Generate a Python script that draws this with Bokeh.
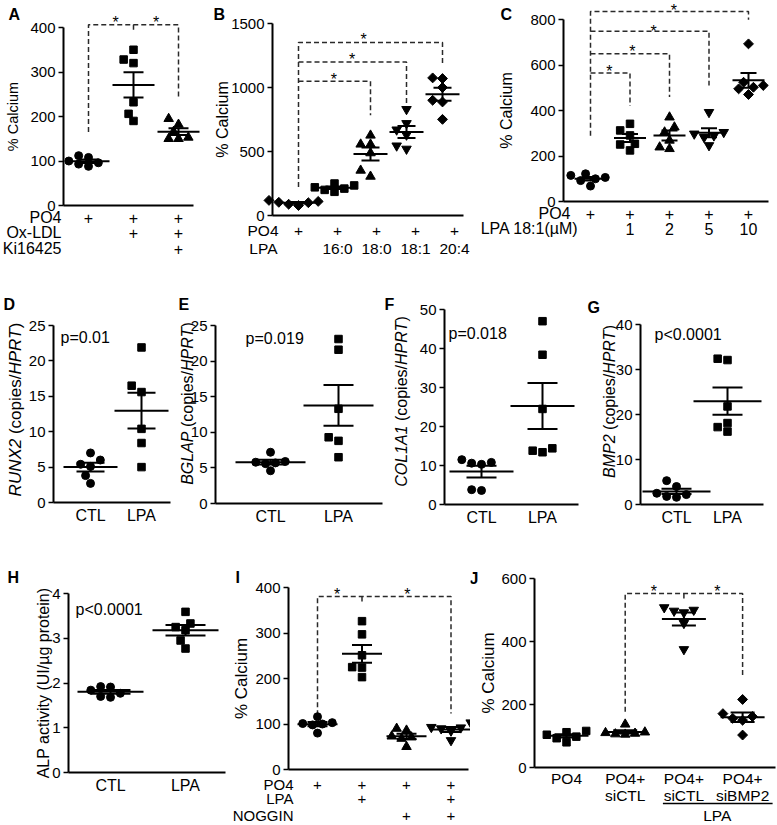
import numpy as np
from bokeh.plotting import figure
from bokeh.models import Range1d, FixedTicker, Label
from bokeh.layouts import row, column
from bokeh.embed import file_html
from bokeh.resources import INLINE

FONT = "Liberation Sans"

# ---------------- data ----------------
# A  (% Calcium)
A_po4 = [108, 100, 88, 93, 96, 112]
A_oxldl = [350, 328, 320, 232, 206, 190]
A_oxldl_ki = [195, 182, 166, 150, 150, 153]
A_rows = ["PO4", "Ox-LDL", "Ki16425"]
A_marks = [["+", "+", "+"], ["", "+", "+"], ["", "", "+"]]
A_yticks = [0, 100, 200, 300, 400]
A_brackets = [[(1, 165), (1, 406), (3, 406), (3, 243)], [(2, 406), (2, 389)]]
A_stars = [(1.6, 420), (2.5, 420)]

# B
B_po4 = [118, 103, 88, 78, 110, 100]
B_160 = [250, 235, 220, 210, 200, 185]
B_180 = [626, 556, 556, 488, 352, 305]
B_181 = [830, 720, 670, 630, 545, 520]
B_204 = [1075, 1070, 1000, 900, 887, 751]
B_rows = ["PO4", "LPA"]
B_marks = [["+", "+", "+", "+", "+"], ["", "16:0", "18:0", "18:1", "20:4"]]
B_yticks = [0, 500, 1000, 1500]
B_brackets = [[(1, 222), (1, 1351), (5, 1351), (5, 1187)],
              [(1, 1200), (4, 1200), (4, 874)],
              [(1, 1049), (3, 1049), (3, 783)]]
B_stars = [(1.98, 1095), (2.49, 1252), (2.81, 1408)]

# C
C_0 = [122, 115, 106, 100, 92, 68]
C_1 = [342, 313, 291, 254, 251, 225]
C_2 = [371, 327, 305, 269, 239, 232]
C_5 = [393, 305, 298, 290, 283, 247]
C_10 = [694, 525, 511, 503, 496, 471]
C_rows = ["PO4", "LPA 18:1(µM)"]
C_marks = [["+", "+", "+", "+", "+"], ["", "1", "2", "5", "10"]]
C_yticks = [0, 200, 400, 600, 800]
C_brackets = [[(1, 290), (1, 836), (5, 836), (5, 800)],
              [(1, 750), (4, 750), (4, 511)],
              [(1, 650), (3, 650), (3, 460)],
              [(1, 566), (2, 566), (2, 420)]]
C_stars = [(1.48, 590), (2.06, 678), (2.6, 766), (3.11, 858)]

# D-H  (CTL vs LPA)
D_ctl = [7.0, 6.0, 5.4, 5.1, 3.8, 2.7]
D_lpa = [21.9, 16.5, 15.6, 10.4, 8.4, 5.0]
E_ctl = [7.2, 5.9, 5.8, 5.7, 5.6, 4.6]
E_lpa = [23.1, 21.6, 13.3, 9.3, 8.8, 6.5]
F_ctl = [11.5, 10.8, 10.6, 10.3, 3.8, 3.6]
F_lpa = [47.0, 38.4, 24.5, 14.4, 13.8, 13.4]
G_ctl = [5.3, 4.0, 2.5, 2.2, 1.8, 1.6]
G_lpa = [32.4, 32.1, 21.8, 18.1, 17.2, 16.2]
H_ctl = [1.92, 1.91, 1.84, 1.77, 1.70, 1.68]
H_lpa = [3.59, 3.33, 3.25, 3.18, 2.95, 2.77]
CTL_LPA = ["CTL", "LPA"]
GENES = {"D": "RUNX2", "E": "BGLAP", "F": "COL1A1", "G": "BMP2"}
P_TEXT = {"D": "p=0.01", "E": "p=0.019", "F": "p=0.018", "G": "p<0.0001", "H": "p<0.0001"}

# I
I_po4 = [116, 103, 101, 100, 98, 80]
I_lpa = [326, 297, 251, 225, 224, 203]
I_nog = [90, 86, 73, 71, 68, 50]
I_lpa_nog = [103, 93, 92, 90, 85, 64]
I_rows = ["PO4", "LPA", "NOGGIN"]
I_marks = [["+", "+", "+", "+"], ["", "+", "", "+"], ["", "", "+", "+"]]
I_yticks = [0, 100, 200, 300, 400]
I_brackets = [[(1, 119), (1, 380), (4, 380), (4, 123)], [(2, 380), (2, 365)]]
I_stars = [(1.44, 393), (3.02, 393)]

# J
J_po4 = [116, 112, 104, 98, 93, 80]
J_sictl = [137, 112, 110, 108, 106, 105]
J_lpa_sictl = [508, 500, 497, 492, 458, 375]
J_lpa_sibmp2 = [216, 171, 162, 156, 150, 103]
J_top = ["PO4", "PO4+", "PO4+", "PO4+"]
J_bottom = ["", "siCTL", "siCTL", "siBMP2"]
J_lpa_groups = [3, 4]
J_yticks = [0, 200, 400, 600]
J_brackets = [[(2, 177), (2, 552), (4, 552), (4, 288)], [(3, 552), (3, 536)]]
J_stars = [(2.49, 571), (3.57, 571)]

# Arial / Liberation Sans advance widths (1/1000 em) for the gene axis titles
ADV = {"R": 722, "U": 722, "N": 722, "X": 667, "2": 556, "B": 667, "G": 778, "L": 556,
       "A": 667, "P": 667, "C": 722, "O": 778, "1": 556, "M": 833, "H": 722, "T": 611,
       "(": 333, ")": 333, "c": 500, "o": 556, "p": 556, "i": 222, "e": 556, "s": 500,
       "/": 278, " ": 278}


# ---------------- helpers ----------------
def make_panel(box, axis_x, axis_end, y0, ytop, ytop_val, c1, dc):
    """box = (left, top, width, height) of the figure on the page; the plot frame
    fills the whole figure, axes are placed with fixed_location."""
    fl, ft, fw, fh = box
    k = (y0 - ytop) / ytop_val

    def fx(rx):
        return 1 + (rx - c1) / dc

    def fy(ry):
        return (y0 - ry) / k

    p = figure(width=fw, height=fh, x_range=Range1d(fx(fl), fx(fl + fw)),
               y_range=Range1d(fy(ft + fh), fy(ft)),
               output_backend="svg", toolbar_location=None,
               min_border=0, min_border_left=0, min_border_right=0,
               min_border_top=0, min_border_bottom=0)
    p.outline_line_color = None
    p.grid.visible = False
    p.background_fill_color = "white"
    p.border_fill_color = "white"
    return dict(p=p, fx=fx, fy=fy, k=k, dc=dc, ax=fx(axis_x), aend=fx(axis_end))


def style_axes(P, yticks, ylabel, ylsize, ylstd, xlabels=None):
    p = P["p"]
    ya = p.yaxis[0]
    ya.fixed_location = P["ax"]
    ya.ticker = FixedTicker(ticks=yticks)
    ya.bounds = (yticks[0], yticks[-1])
    ya.axis_line_width = 2
    ya.axis_line_color = "black"
    ya.major_tick_line_width = 1.5
    ya.major_tick_line_color = "black"
    ya.major_tick_out = 5
    ya.major_tick_in = 0
    ya.minor_tick_line_color = None
    ya.major_label_text_font = FONT
    ya.major_label_text_font_size = "15px"
    ya.major_label_text_color = "black"
    ya.major_label_standoff = 3
    if ylabel:
        ya.axis_label = ylabel
        ya.axis_label_text_font = FONT
        ya.axis_label_text_font_size = ylsize
        ya.axis_label_text_font_style = "normal"
        ya.axis_label_text_color = "black"
        ya.axis_label_standoff = ylstd
    xa = p.xaxis[0]
    xa.fixed_location = 0
    xa.bounds = (P["ax"], P["aend"])
    xa.axis_line_width = 2
    xa.axis_line_color = "black"
    xa.major_tick_line_color = None
    xa.major_tick_out = 0
    xa.major_tick_in = 0
    xa.minor_tick_line_color = None
    if xlabels:
        ticks = list(range(1, len(xlabels) + 1))
        xa.ticker = FixedTicker(ticks=ticks)
        xa.major_label_overrides = {t: s for t, s in zip(ticks, xlabels)}
        xa.major_label_text_font = FONT
        xa.major_label_text_font_size = "16px"
        xa.major_label_text_color = "black"
        xa.major_label_standoff = 4
    else:
        xa.ticker = FixedTicker(ticks=[])


def gene_title(P, cx, cy, gene, fs):
    """Vertical axis title 'GENE (copies/HPRT)' with italic gene names."""
    pieces = [(gene, "italic", 0), ("(copies/", "normal", ADV[" "]), ("HPRT", "italic", 0),
              (")", "normal", 0)]

    def w(s):
        return sum(ADV[ch] for ch in s) * fs / 1000.0

    total = sum(w(s) + g * fs / 1000.0 for s, _, g in pieces)
    y = cy + total / 2
    for s, style, g in pieces:
        y -= g * fs / 1000.0
        P["p"].add_layout(Label(x=P["fx"](cx), y=P["fy"](y), text=s, angle=np.pi / 2,
                                text_align="left", text_baseline="middle", text_font=FONT,
                                text_font_size=f"{fs}px", text_font_style=style,
                                text_color="black"))
        y -= w(s)


def swarm(vals, k, d):
    ys = np.asarray(vals, float) * k
    order = np.argsort(ys)
    placed = []
    offs = np.zeros(len(ys))
    steps = [0.0]
    for i in range(1, 12):
        steps += [-i * d * 0.6, i * d * 0.6]
    for idx in order:
        for s in steps:
            if all((s - px) ** 2 + (ys[idx] - py) ** 2 >= d * d for px, py in placed):
                offs[idx] = s
                placed.append((s, ys[idx]))
                break
    return offs


MSIZE = {"circle": 8, "square": 7.5, "triangle": 9.5, "inverted_triangle": 9.5, "diamond": 7}


def draw_groups(P, groups, markers, mean_half, sem_half):
    p, k, dc = P["p"], P["k"], P["dc"]
    for gi, (vals, mk) in enumerate(zip(groups, markers)):
        xc = gi + 1
        offs = swarm(vals, k, 8.2)
        xs = [xc + o / dc for o in offs]
        if mk == "diamond":
            p.scatter(xs, vals, marker="square", angle=np.pi / 4, size=MSIZE[mk], color="black")
        else:
            p.scatter(xs, vals, marker=mk, size=MSIZE[mk], color="black")
        m = float(np.mean(vals))
        s = float(np.std(vals, ddof=1) / np.sqrt(len(vals)))
        mh, sh = mean_half / dc, sem_half / dc
        p.segment(x0=[xc - mh, xc - sh, xc - sh, xc], y0=[m, m + s, m - s, m - s],
                  x1=[xc + mh, xc + sh, xc + sh, xc], y1=[m, m + s, m - s, m + s],
                  line_color="black", line_width=2)


def draw_brackets(P, brackets, stars):
    p, k = P["p"], P["k"]
    for br in brackets:
        p.line([b[0] for b in br], [b[1] for b in br], line_color="#2a2a2a",
               line_width=1.5, line_dash="5 3")
    for sx, sv in stars:
        p.add_layout(Label(x=sx, y=sv - 4 / k, text="*", text_font=FONT, text_font_size="16px",
                           text_align="center", text_baseline="middle", text_color="black"))


def txt(P, rx, ry, s, size="16px", align="center", baseline="middle", bold=False, data_x=None):
    x = data_x if data_x is not None else P["fx"](rx)
    P["p"].add_layout(Label(x=x, y=P["fy"](ry), text=s, text_font=FONT, text_font_size=size,
                            text_align=align, text_baseline=baseline, text_color="black",
                            text_font_style="bold" if bold else "normal"))


def letter(P, rx, ry, s):
    txt(P, rx, ry - 3, s, size="16px", align="left", baseline="top", bold=True)


def row_table(P, rows, marks, row_ys, label_right, size, col_px=None):
    """col_px = (first column px, column spacing px) when the table columns are spaced
    differently from the data groups."""
    for r, (name, mk) in enumerate(zip(rows, marks)):
        txt(P, label_right[r], row_ys[r], name, size=size, align="right")
        for g, m in enumerate(mk):
            if m:
                if col_px:
                    txt(P, col_px[0] + g * col_px[1], row_ys[r], m, size=size)
                else:
                    txt(P, 0, row_ys[r], m, size=size, data_x=g + 1)


# ---------------- row 1 ----------------
PA = make_panel((0, 0, 205, 292), 63, 193, 205, 27, 400, 88, 45)
style_axes(PA, A_yticks, "% Calcium", "14.5px", 6)
draw_brackets(PA, A_brackets, A_stars)
draw_groups(PA, [A_po4, A_oxldl, A_oxldl_ki], ["circle", "square", "triangle"], 21, 10)
row_table(PA, A_rows, A_marks, [217, 232, 248], [61, 61, 61], "16px")
letter(PA, 8, 8, "A")

PB = make_panel((205, 0, 270, 292), 272, 463, 215, 23, 1500, 298, 36)
style_axes(PB, B_yticks, "% Calcium", "16px", -3)
draw_brackets(PB, B_brackets, B_stars)
draw_groups(PB, [B_po4, B_160, B_180, B_181, B_204],
            ["diamond", "square", "triangle", "inverted_triangle", "diamond"], 17, 9)
row_table(PB, B_rows, B_marks, [230, 248], [278, 277], "15.5px", col_px=(298, 39))
letter(PB, 213, 8, "B")

PC = make_panel((475, 0, 301, 292), 563, 768, 201, 19.3, 800, 590, 39.5)
style_axes(PC, C_yticks, "% Calcium", "16px", 12)
draw_brackets(PC, C_brackets, C_stars)
draw_groups(PC, [C_0, C_1, C_2, C_5, C_10],
            ["circle", "square", "triangle", "inverted_triangle", "diamond"], 16, 8)
row_table(PC, C_rows, C_marks, [213, 228], [570, 578], "16px")
letter(PC, 500, 8, "C")

# ---------------- row 2 ----------------
PD = make_panel((0, 292, 172, 263), 53, 170, 502, 325, 25, 90, 51)
style_axes(PD, [0, 5, 10, 15, 20, 25], None, None, None, CTL_LPA)
gene_title(PD, 15, 409, GENES["D"], 17)
draw_groups(PD, [D_ctl, D_lpa], ["circle", "square"], 27, 14)
txt(PD, 60, 337, P_TEXT["D"], align="left", baseline="alphabetic")
letter(PD, 3, 298, "D")

PE = make_panel((172, 292, 211, 263), 215, 382, 503, 325, 25, 270, 68)
style_axes(PE, [0, 5, 10, 15, 20, 25], None, None, None, CTL_LPA)
gene_title(PE, 187, 403, GENES["E"], 16)
draw_groups(PE, [E_ctl, E_lpa], ["circle", "square"], 35, 15)
txt(PE, 245, 338, P_TEXT["E"], align="left", baseline="alphabetic")
letter(PE, 178, 298, "E")

PF = make_panel((383, 292, 200, 263), 444, 578, 504, 309, 50, 481, 61)
style_axes(PF, [0, 10, 20, 30, 40, 50], None, None, None, CTL_LPA)
gene_title(PF, 401, 401, GENES["F"], 16)
draw_groups(PF, [F_ctl, F_lpa], ["circle", "square"], 32, 15)
txt(PF, 448, 333, P_TEXT["F"], align="left", baseline="alphabetic")
letter(PF, 384, 298, "F")

PG = make_panel((583, 292, 193, 263), 640, 763, 504, 324, 40, 676, 51)
style_axes(PG, [0, 10, 20, 30, 40], None, None, None, CTL_LPA)
gene_title(PG, 609, 401, GENES["G"], 16)
draw_groups(PG, [G_ctl, G_lpa], ["circle", "square"], 34, 15)
txt(PG, 654, 334, P_TEXT["G"], align="left", baseline="alphabetic")
letter(PG, 587, 301, "G")

# ---------------- row 3 ----------------
PH = make_panel((0, 555, 230, 269), 68, 225, 772, 593, 4, 110, 75)
style_axes(PH, [0, 1, 2, 3, 4], "ALP activity (UI/µg protein)", "16px", -3, CTL_LPA)
draw_groups(PH, [H_ctl, H_lpa], ["circle", "square"], 33, 20)
txt(PH, 75, 609, P_TEXT["H"], align="left", baseline="alphabetic")
letter(PH, 7, 571, "H")

PI = make_panel((230, 555, 240, 269), 288, 468, 769, 587, 400, 317, 44.5)
style_axes(PI, I_yticks, "% Calcium", "17px", 1)
draw_brackets(PI, I_brackets, I_stars)
draw_groups(PI, [I_po4, I_lpa, I_nog, I_lpa_nog],
            ["circle", "square", "triangle", "inverted_triangle"], 20, 10)
row_table(PI, I_rows, I_marks, [784, 798, 815], [293, 293, 293], "15px")
letter(PI, 235, 571, "I")

PJ = make_panel((470, 555, 306, 269), 534, 775, 767, 578, 600, 566, 58.7)
style_axes(PJ, J_yticks, "% Calcium", "17px", 0)
draw_brackets(PJ, J_brackets, J_stars)
draw_groups(PJ, [J_po4, J_sictl, J_lpa_sictl, J_lpa_sibmp2],
            ["square", "triangle", "inverted_triangle", "diamond"], 22, 12)
for g, (t, b) in enumerate(zip(J_top, J_bottom)):
    txt(PJ, 0, 778, t, size="15.5px", data_x=g + 1)
    if b:
        txt(PJ, 0, 795, b, size="15.5px", data_x=g + 1)
uy = PJ["fy"](803)
PJ["p"].line([J_lpa_groups[0] - 21 / PJ["dc"], J_lpa_groups[-1] + 30 / PJ["dc"]], [uy, uy],
             line_color="black", line_width=1.5)
txt(PJ, 0, 815, "LPA", size="15.5px", data_x=float(np.mean(J_lpa_groups)) + 4 / PJ["dc"])
letter(PJ, 469, 572, "J")

layout = column(row(PA["p"], PB["p"], PC["p"], spacing=0),
                row(PD["p"], PE["p"], PF["p"], PG["p"], spacing=0),
                row(PH["p"], PI["p"], PJ["p"], spacing=0), spacing=0)

open("out.html", "w").write(file_html(layout, INLINE))
